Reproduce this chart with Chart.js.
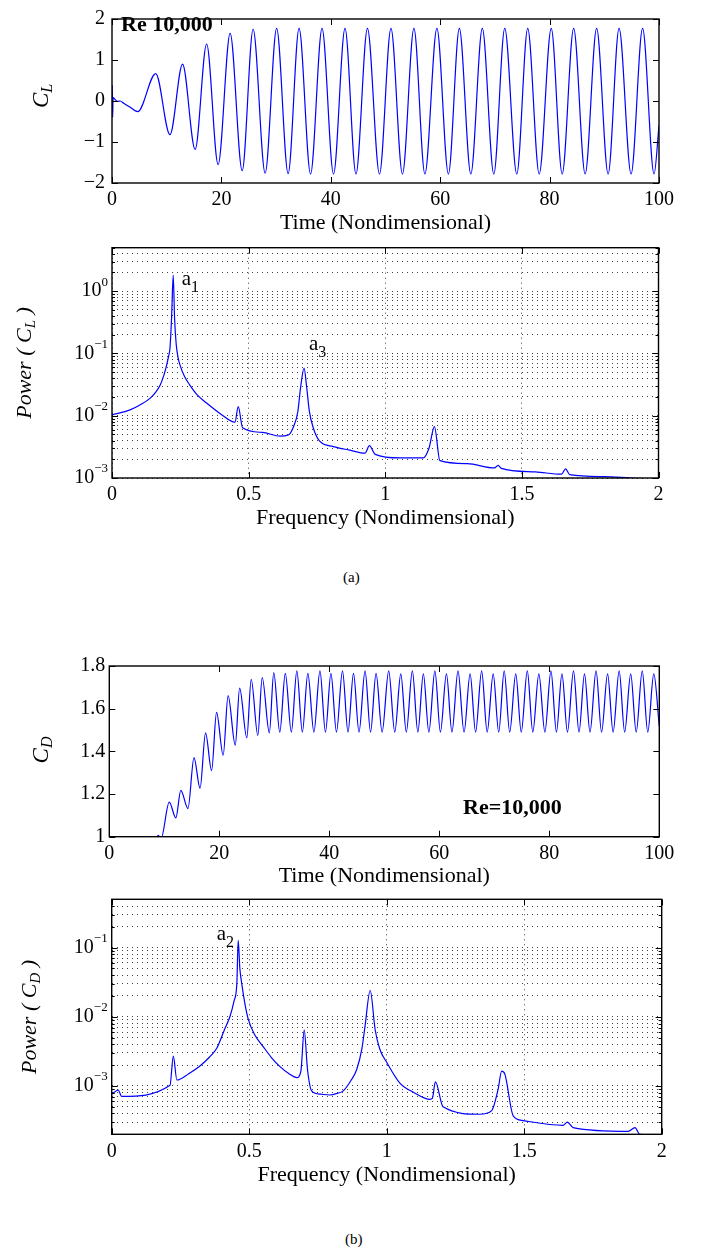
<!DOCTYPE html>
<html>
<head>
<meta charset="utf-8">
<script src="https://cdn.jsdelivr.net/npm/chart.js@4.4.1/dist/chart.umd.min.js"></script>
<style>
  body { margin:0; background:#fff; width:709px; height:1254px; position:relative; overflow:hidden; font-family:"Liberation Serif", serif; }
  canvas { position:absolute; left:0; }
  .cap { position:absolute; font-size:15px; color:#000; }
</style>
</head>
<body>
<canvas id="clTimeChart" width="709" height="245" style="top:0px;width:709px;height:245px"></canvas>
<canvas id="clPowerChart" width="709" height="300" style="top:240px;width:709px;height:300px"></canvas>
<canvas id="cdTimeChart" width="709" height="250" style="top:650px;width:709px;height:250px"></canvas>
<canvas id="cdPowerChart" width="709" height="310" style="top:890px;width:709px;height:310px"></canvas>
<div class="cap" style="left:343px;top:569px">(a)</div>
<div class="cap" style="left:345px;top:1231px">(b)</div>
<script>
// 揚力係数の時系列 (ピークと谷の位置を読み取り)
const clTime = [0, 0.06, 0.12, 0.2, 0.6, 1.0, 1.5, 2.2, 3.2, 4.7,
  8.0, 10.6, 12.9, 15.2, 17.3, 19.4, 21.6, 23.8, 25.8, 28.0,
  30.1, 32.2, 34.2, 36.3, 38.4, 40.5, 42.6, 44.6, 46.7, 48.9,
  51.0, 53.1, 55.2, 57.2, 59.4, 61.5, 63.5, 65.6, 67.7, 69.8,
  71.8, 74.0, 76.0, 78.1, 80.3, 82.3, 84.4, 86.5, 88.6, 90.7,
  92.7, 94.9, 97.0, 99.1, 100];
const clLift = [0, 0.38, -0.4, 0.08, 0.03, -0.01, 0.0, -0.06, -0.14, -0.26,
  0.67, -0.82, 0.90, -1.18, 1.39, -1.55, 1.65, -1.70, 1.75, -1.76,
  1.77, -1.77, 1.77, -1.78, 1.77, -1.78, 1.77, -1.78, 1.77, -1.78,
  1.77, -1.78, 1.77, -1.78, 1.77, -1.78, 1.77, -1.78, 1.77, -1.78,
  1.77, -1.78, 1.77, -1.78, 1.77, -1.78, 1.77, -1.78, 1.77, -1.78,
  1.77, -1.78, 1.77, -1.78, -0.6];

// 抗力係数の時系列
const cdTime = [8.2, 8.9, 9.4, 10.9, 12.1, 13.0, 14.3, 15.4, 16.5, 17.5,
  18.6, 19.5, 20.7, 21.6, 22.9, 23.7, 25.0, 25.8, 27.0, 27.8,
  29.1, 29.9, 31.0, 32.0, 33.1, 34.1, 35.1, 36.1, 37.2, 38.3,
  39.3, 40.3, 41.3, 42.4, 43.4, 44.4, 45.4, 46.5, 47.5, 48.5,
  49.6, 50.8, 51.9, 53.0, 54.0, 55.1, 56.1, 57.1, 58.1, 59.2,
  60.2, 61.3, 62.3, 63.4, 64.5, 65.6, 66.6, 67.7, 68.7, 69.8,
  70.8, 71.8, 72.8, 73.9, 74.9, 76.0, 77.0, 78.1, 79.2, 80.3,
  81.3, 82.3, 83.3, 84.4, 85.4, 86.4, 87.4, 88.5, 89.5, 90.6,
  91.6, 92.7, 93.7, 94.8, 95.8, 96.9, 97.9, 99.0, 100];
const cdDrag = [0.96, 1.006, 0.99, 1.162, 1.088, 1.217, 1.132, 1.371, 1.227, 1.487,
  1.31, 1.583, 1.382, 1.661, 1.429, 1.696, 1.463, 1.738, 1.475, 1.746,
  1.487, 1.769, 1.49, 1.765, 1.49, 1.777, 1.49, 1.765, 1.49, 1.777,
  1.49, 1.765, 1.49, 1.777, 1.49, 1.765, 1.49, 1.777, 1.49, 1.765,
  1.49, 1.777, 1.49, 1.763, 1.49, 1.777, 1.49, 1.763, 1.49, 1.777,
  1.49, 1.763, 1.49, 1.777, 1.49, 1.763, 1.49, 1.777, 1.49, 1.763,
  1.49, 1.777, 1.49, 1.763, 1.49, 1.777, 1.49, 1.763, 1.49, 1.777,
  1.49, 1.763, 1.49, 1.777, 1.49, 1.763, 1.49, 1.777, 1.49, 1.763,
  1.49, 1.777, 1.49, 1.763, 1.49, 1.777, 1.49, 1.763, 1.518];

// パワースペクトル (C_L)
const clFreq = [0, 0.066, 0.102, 0.139, 0.16, 0.176, 0.19, 0.2, 0.207, 0.212,
  0.218, 0.224, 0.229, 0.235, 0.242, 0.249, 0.265, 0.285, 0.31, 0.347,
  0.40, 0.45, 0.462, 0.478, 0.55, 0.615, 0.645, 0.665, 0.68, 0.69,
  0.703, 0.712, 0.722, 0.737, 0.76, 0.81, 0.87, 0.926, 0.942, 0.963,
  1.054, 1.139, 1.16, 1.18, 1.2, 1.3, 1.40, 1.413, 1.425, 1.55,
  1.645, 1.66, 1.675, 1.8, 1.9, 2.0];
const clPower = [0.0103, 0.0124, 0.0149, 0.019, 0.024, 0.031, 0.045, 0.065, 0.09, 0.12,
  0.37, 1.8, 0.37, 0.14, 0.085, 0.065, 0.043, 0.031, 0.022, 0.0159,
  0.0105, 0.0079, 0.014, 0.0064, 0.0054, 0.0047, 0.0049, 0.0068, 0.0116, 0.028,
  0.058, 0.03, 0.012, 0.0063, 0.0039, 0.0032, 0.0028, 0.0025, 0.0033, 0.0024,
  0.0021, 0.0021, 0.003, 0.0067, 0.0019, 0.0017, 0.00145, 0.0016, 0.00143, 0.00125,
  0.00115, 0.0014, 0.00113, 0.00105, 0.001, 0.00096];

// パワースペクトル (C_D)
const cdFreq = [0, 0.024, 0.036, 0.212, 0.224, 0.237, 0.28, 0.321, 0.355, 0.382,
  0.41, 0.43, 0.445, 0.455, 0.46, 0.466, 0.473, 0.485, 0.497, 0.52,
  0.551, 0.58, 0.612, 0.645, 0.673, 0.688, 0.70, 0.712, 0.727, 0.76,
  0.793, 0.82, 0.842, 0.87, 0.891, 0.91, 0.921, 0.94, 0.958, 0.975,
  1.0, 1.048, 1.10, 1.157, 1.166, 1.177, 1.205, 1.339, 1.382, 1.405,
  1.418, 1.43, 1.46, 1.496, 1.642, 1.657, 1.678, 1.878, 1.903, 1.92,
  2.0];
const cdPower = [7.6e-4, 8.7e-4, 7.05e-4, 1.02e-3, 2.7e-3, 1.22e-3, 1.5e-3, 1.94e-3, 2.6e-3, 3.5e-3,
  6.5e-3, 0.0101, 0.017, 0.030, 0.127, 0.05, 0.030, 0.015, 0.0091, 0.0055,
  0.0037, 0.0026, 0.0019, 0.0015, 1.32e-3, 1.64e-3, 6.4e-3, 1.73e-3, 8.5e-4, 7.6e-4,
  7.4e-4, 7.8e-4, 8.5e-4, 1.2e-3, 1.73e-3, 3.5e-3, 7.2e-3, 0.024, 6.5e-3, 3.4e-3,
  2.2e-3, 1.1e-3, 8.0e-4, 6.4e-4, 6.6e-4, 1.15e-3, 5.0e-4, 3.9e-4, 4.4e-4, 8.9e-4,
  1.64e-3, 1.47e-3, 3.7e-4, 3.16e-4, 2.7e-4, 3.0e-4, 2.5e-4, 2.2e-4, 2.5e-4, 2.0e-4,
  1.95e-4];

// 目盛り
const timeTicks = [0, 20, 40, 60, 80, 100];
const timeTickLabels = ['0', '20', '40', '60', '80', '100'];
const freqTicks = [0, 0.5, 1, 1.5, 2];
const freqTickLabels = ['0', '0.5', '1', '1.5', '2'];
const clTicks = [-2, -1, 0, 1, 2];
const clTickLabels = ['\u22122', '\u22121', '0', '1', '2'];
const cdTicks = [1, 1.2, 1.4, 1.6, 1.8];
const cdTickLabels = ['1', '1.2', '1.4', '1.6', '1.8'];
const clPowerMajors = [1e-3, 1e-2, 1e-1, 1];
const clPowerExps = ['\u22123', '\u22122', '\u22121', '0'];
const clPowerDecades = [1e-3, 1e-2, 1e-1, 1];
const cdPowerMajors = [1e-3, 1e-2, 1e-1];
const cdPowerExps = ['\u22123', '\u22122', '\u22121'];
const cdPowerDecades = [1e-4, 1e-3, 1e-2, 1e-1];

const FONT = '"Liberation Serif", "Times New Roman", serif';
const LINE_BLUE = '#0000ff';
const GRID_COLOR = 'rgba(0,0,0,0.75)';

function toXY(xs, ys) {
    return xs.map((x, i) => ({x: x, y: ys[i]}));
}

// 対数軸のグリッド位置 (1..9 x 10^n)
function logGrid(decades, min, max) {
    const out = [];
    decades.forEach(d => {
        for (let m = 1; m <= 9; m++) {
            const v = +(m * d).toPrecision(6);
            if (v >= min - 1e-12 && v <= max + 1e-12) out.push(v);
        }
    });
    return out;
}

function fontStr(r) {
    return (r.style || 'normal') + ' ' + (r.weight || 'normal') + ' ' + r.size + 'px ' + FONT;
}

// 添字つきテキストを描く
function drawRuns(ctx, runs, x, y, align) {
    let w = 0;
    runs.forEach(r => {
        ctx.font = fontStr(r);
        r.w = ctx.measureText(r.t).width;
        w += r.w;
    });
    let cx = align === 'center' ? x - w / 2 : (align === 'right' ? x - w : x);
    runs.forEach(r => {
        ctx.font = fontStr(r);
        ctx.fillText(r.t, cx, y + (r.dy || 0));
        cx += r.w;
    });
}

// 枠・内向き目盛り・対数ラベル・注記
const decor = {
    id: 'decor',
    afterDraw(chart, args, o) {
        const {ctx, chartArea: a} = chart;
        const xs = chart.scales.x, ys = chart.scales.y;
        ctx.save();
        ctx.strokeStyle = '#000';
        ctx.lineWidth = 1;
        ctx.beginPath();
        xs.ticks.forEach(t => {
            const px = Math.round(xs.getPixelForValue(t.value)) + 0.5;
            ctx.moveTo(px, a.bottom); ctx.lineTo(px, a.bottom - 6);
            ctx.moveTo(px, a.top); ctx.lineTo(px, a.top + 6);
        });
        ys.ticks.forEach(t => {
            const py = Math.round(ys.getPixelForValue(t.value)) + 0.5;
            const len = (o.majors && !o.majors.includes(t.value)) ? 3 : 6;
            ctx.moveTo(a.left, py); ctx.lineTo(a.left + len, py);
            ctx.moveTo(a.right, py); ctx.lineTo(a.right - len, py);
        });
        ctx.stroke();
        ctx.lineWidth = 1.4;
        ctx.strokeRect(a.left, a.top, a.right - a.left, a.bottom - a.top);

        ctx.fillStyle = '#000';
        ctx.textBaseline = 'middle';
        if (o.majors) {
            o.majors.forEach((v, i) => {
                const py = ys.getPixelForValue(v);
                drawRuns(ctx, [{t: '10', size: 20}, {t: o.exps[i], size: 13, dy: -9}], a.left - 4, py, 'right');
            });
        }
        (o.texts || []).forEach(tx => {
            const x = tx.dataX !== undefined ? xs.getPixelForValue(tx.dataX) : tx.x;
            const y = tx.dataY !== undefined ? ys.getPixelForValue(tx.dataY) : tx.y - o.top;
            ctx.textBaseline = tx.baseline || 'middle';
            if (tx.rotate) {
                ctx.save();
                ctx.translate(x, y);
                ctx.rotate(-Math.PI / 2);
                drawRuns(ctx, tx.runs, 0, 0, 'center');
                ctx.restore();
            } else {
                drawRuns(ctx, tx.runs, x, y, tx.align || 'left');
            }
        });
        ctx.restore();
    }
};

function makeChart(id, o) {
    const yScale = o.log ? {
        type: 'logarithmic', min: o.ymin, max: o.ymax,
        afterBuildTicks: s => { s.ticks = o.yGrid.map(v => ({value: v})); },
        afterFit: s => { s.width = o.left; },
        ticks: {display: false, autoSkip: false},
        grid: {display: true, drawTicks: false, color: GRID_COLOR, lineWidth: 1},
        border: {display: false, dash: [1, 4]}
    } : {
        type: 'linear', min: o.ymin, max: o.ymax,
        afterBuildTicks: s => { s.ticks = o.yTicks.map(v => ({value: v})); },
        afterFit: s => { s.width = o.left; },
        ticks: {autoSkip: false, padding: o.yPad, color: '#000', font: {family: FONT, size: 20},
                callback: (v, i) => o.yLabels[i]},
        grid: {display: false, drawTicks: false},
        border: {display: false}
    };
    return new Chart(document.getElementById(id), {
        type: 'line',
        data: {
            datasets: [{
                data: toXY(o.xs, o.ys),
                borderColor: LINE_BLUE,
                borderWidth: 1.2,
                pointRadius: 0,
                fill: false,
                cubicInterpolationMode: 'monotone'
            }]
        },
        options: {
            responsive: false,
            animation: false,
            events: [],
            layout: {padding: {left: 0, right: o.right, top: o.top0, bottom: 0}},
            plugins: {
                legend: {display: false},
                tooltip: {enabled: false},
                decor: {majors: o.majors, exps: o.exps, texts: o.texts, top: o.canvasTop}
            },
            scales: {
                x: {
                    type: 'linear', min: o.xmin, max: o.xmax,
                    afterBuildTicks: s => { s.ticks = o.xTicks.map(v => ({value: v})); },
                    afterFit: s => { s.height = o.xH; },
                    ticks: {autoSkip: false, maxRotation: 0, padding: 5, color: '#000',
                            font: {family: FONT, size: 20}, callback: (v, i) => o.xLabels[i]},
                    grid: {display: !!o.log, drawTicks: false, color: GRID_COLOR, lineWidth: 1},
                    border: {display: false, dash: [1, 4]},
                    title: {display: true, text: o.xTitle, color: '#000',
                            font: {family: FONT, size: 22}, padding: {top: 0, bottom: o.titlePad}}
                },
                y: yScale
            }
        },
        plugins: [decor]
    });
}

const it = 'italic';

makeChart('clTimeChart', {
    canvasTop: 0, left: 112, right: 50, top0: 9, xH: 62, titlePad: 8.8, yPad: 7,
    xs: clTime, ys: clLift,
    xmin: 0, xmax: 100, xTicks: timeTicks, xLabels: timeTickLabels,
    ymin: -2, ymax: 2, yTicks: clTicks, yLabels: clTickLabels,
    xTitle: 'Time (Nondimensional)',
    texts: [
        {x: 121, y: 25, runs: [{t: 'Re 10,000', size: 22, weight: 'bold'}]},
        {x: 42, y: 96, rotate: true, runs: [{t: 'C', size: 23, style: it}, {t: 'L', size: 16, style: it, dy: 6}]}
    ]
});

makeChart('clPowerChart', {
    canvasTop: 240, left: 112, right: 50.5, top0: 7.7, xH: 62, titlePad: 8.8,
    xs: clFreq, ys: clPower, log: true,
    xmin: 0, xmax: 2, xTicks: freqTicks, xLabels: freqTickLabels,
    ymin: 1e-3, ymax: 5, yGrid: logGrid(clPowerDecades, 1e-3, 5),
    majors: clPowerMajors, exps: clPowerExps,
    xTitle: 'Frequency (Nondimensional)',
    texts: [
        {dataX: 0.255, dataY: 1.25, baseline: 'alphabetic',
         runs: [{t: 'a', size: 21}, {t: '1', size: 16, dy: 7}]},
        {dataX: 0.721, dataY: 0.113, baseline: 'alphabetic',
         runs: [{t: 'a', size: 21}, {t: '3', size: 16, dy: 7}]},
        {x: 25, y: 363, rotate: true, runs: [{t: 'Power ( ', size: 22, style: it}, {t: 'C', size: 22, style: it},
            {t: 'L', size: 15, style: it, dy: 6}, {t: ' )', size: 22, style: it}]}
    ]
});

makeChart('cdTimeChart', {
    canvasTop: 650, left: 109.3, right: 49.7, top0: 14.3, xH: 63.3, titlePad: 10.1, yPad: 4,
    xs: cdTime, ys: cdDrag,
    xmin: 0, xmax: 100, xTicks: timeTicks, xLabels: timeTickLabels,
    ymin: 1, ymax: 1.8, yTicks: cdTicks, yLabels: cdTickLabels,
    xTitle: 'Time (Nondimensional)',
    texts: [
        {x: 463, y: 808, runs: [{t: 'Re=10,000', size: 22, weight: 'bold'}]},
        {x: 42, y: 750, rotate: true, runs: [{t: 'C', size: 23, style: it}, {t: 'D', size: 16, style: it, dy: 6}]}
    ]
});

makeChart('cdPowerChart', {
    canvasTop: 890, left: 111.7, right: 47.3, top0: 9.3, xH: 65.7, titlePad: 11.8,
    xs: cdFreq, ys: cdPower, log: true,
    xmin: 0, xmax: 2, xTicks: freqTicks, xLabels: freqTickLabels,
    ymin: 2e-4, ymax: 0.5, yGrid: logGrid(cdPowerDecades, 2e-4, 0.5),
    majors: cdPowerMajors, exps: cdPowerExps,
    xTitle: 'Frequency (Nondimensional)',
    texts: [
        {dataX: 0.382, dataY: 0.127, baseline: 'alphabetic',
         runs: [{t: 'a', size: 21}, {t: '2', size: 16, dy: 7}]},
        {x: 30, y: 1017, rotate: true, runs: [{t: 'Power ( ', size: 22, style: it}, {t: 'C', size: 22, style: it},
            {t: 'D', size: 15, style: it, dy: 6}, {t: ' )', size: 22, style: it}]}
    ]
});
</script>
</body>
</html>
